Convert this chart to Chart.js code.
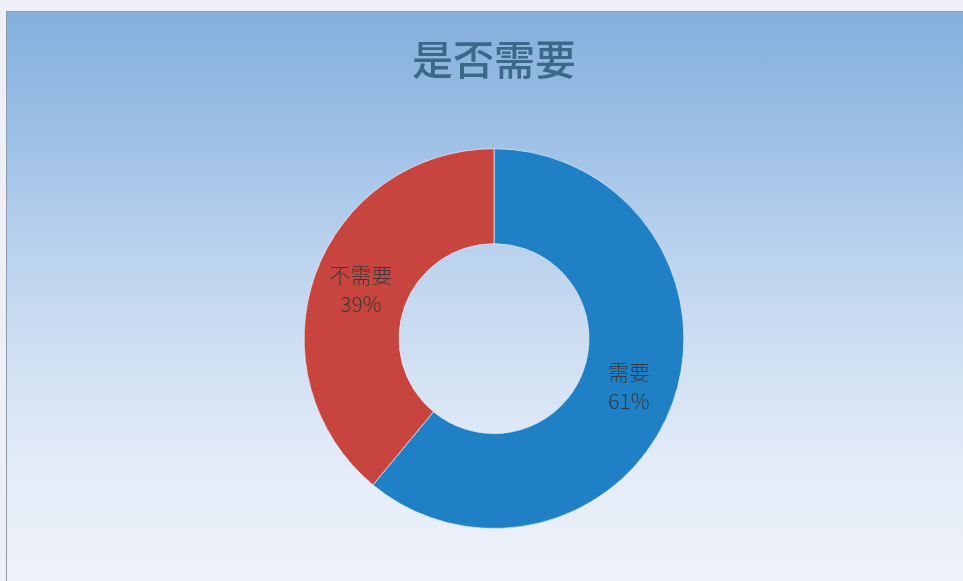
<!DOCTYPE html>
<html>
<head>
<meta charset="utf-8">
<script src="https://cdn.jsdelivr.net/npm/chart.js@4.4.1/dist/chart.umd.min.js"></script>
<style>
  html, body { margin: 0; padding: 0; width: 963px; height: 581px; overflow: hidden; background: #eef0f7; }
  #frame {
    position: absolute; left: 6px; top: 11px; width: 960px; height: 575px;
    border-left: 1px solid #8f9aa6; border-top: 1px solid #8f9aa6;
    background: linear-gradient(to bottom, #84b0dc 0%, #9bbee5 20%, #b8d1ed 40%, #d0e0f3 60%, #e4ecf8 80%, #eff2fa 100%);
  }
  #wrap { position: absolute; left: 0; top: 0; width: 957px; height: 570px; }
</style>
</head>
<body>
<div id="frame"><div id="wrap"><canvas id="c"></canvas></div></div>
<script>
const titleText = '是否需要';
const categories = ['需要', '不需要'];
const values = [61, 39];
const percentLabels = ['61%', '39%'];
const sliceColors = ['#1f80c6', '#c8453f'];

const labelPlugin = {
  id: 'sliceLabels',
  afterDatasetsDraw(chart) {
    const ctx = chart.ctx;
    const meta = chart.getDatasetMeta(0);
    ctx.save();
    ctx.fillStyle = '#3a3a3a';
    ctx.textAlign = 'center';
    ctx.textBaseline = 'middle';
    ctx.font = '300 21px "Noto Sans CJK SC", "Noto Sans", sans-serif';
    meta.data.forEach((arc, i) => {
      const p = arc.getCenterPoint();
      ctx.fillText(categories[i], p.x + 1, p.y - 15);
      ctx.fillText(percentLabels[i], p.x + 1, p.y + 14);
    });
    ctx.restore();
  }
};

new Chart(document.getElementById('c'), {
  type: 'doughnut',
  data: {
    labels: categories,
    datasets: [{
      data: values,
      backgroundColor: sliceColors,
      borderColor: 'rgba(230,240,250,0.7)',
      borderWidth: 1
    }]
  },
  options: {
    responsive: true,
    maintainAspectRatio: false,
    animation: false,
    cutout: '50%',
    layout: { padding: { left: 17, right: 0, top: 0, bottom: 53 } },
    plugins: {
      legend: { display: false },
      tooltip: { enabled: false },
      title: {
        display: true,
        text: titleText,
        color: '#3b6a88',
        font: { family: '"Noto Sans CJK SC", sans-serif', size: 41, weight: '500', lineHeight: 1.2 },
        padding: { top: 23, bottom: 64 }
      }
    }
  },
  plugins: [labelPlugin]
});
</script>
</body>
</html>
